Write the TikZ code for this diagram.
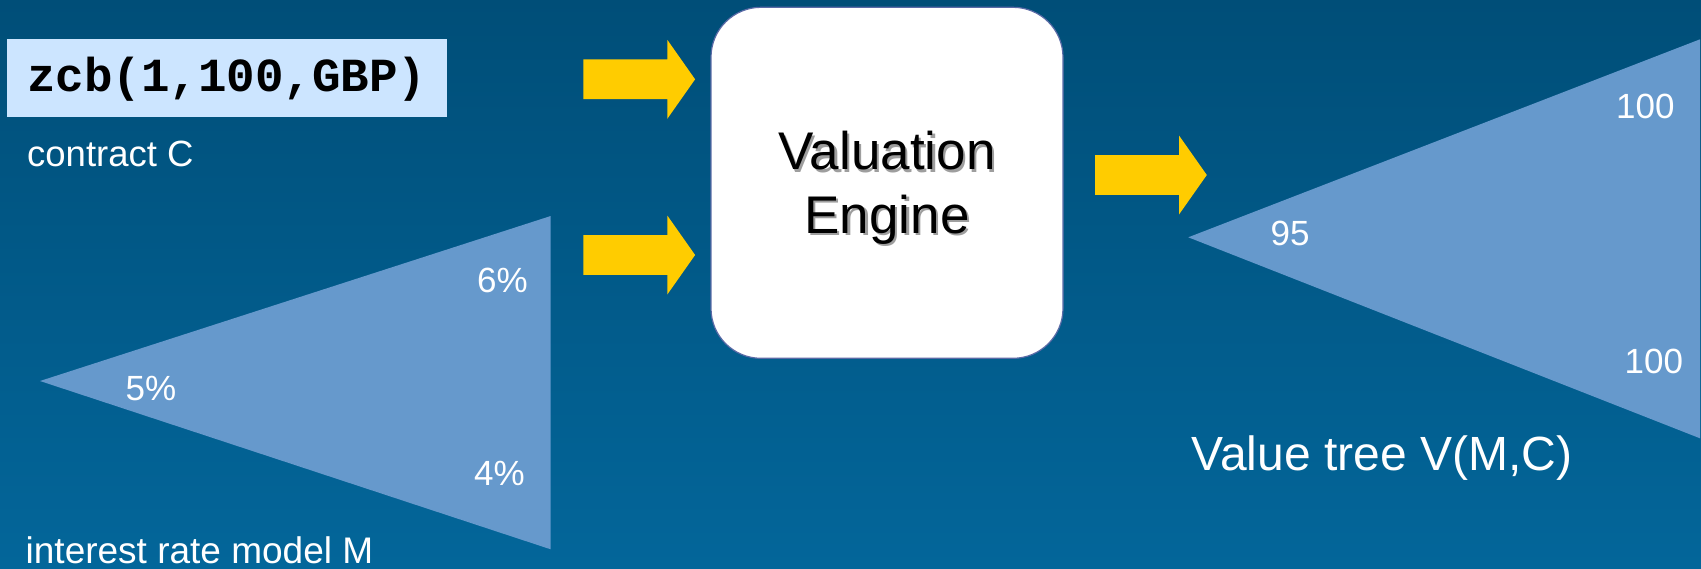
\documentclass[tikz,border=0pt]{standalone}
\usepackage{fontspec}
\setmainfont{Liberation Sans}
\newfontfamily\codefont{Liberation Mono}
\definecolor{bgtop}{HTML}{004E78}
\definecolor{bgbot}{HTML}{03669A}
\definecolor{tri}{HTML}{6699CC}
\definecolor{arrowyellow}{HTML}{FFCC00}
\definecolor{codefill}{HTML}{CCE5FF}
\definecolor{engineedge}{HTML}{5A6AA6}
\newcommand\shtext[1]{\makebox[0pt][l]{\hspace{2.3pt}\raisebox{-2.3pt}{\color{black!38}#1}}#1}
\begin{document}
\begin{tikzpicture}[x=1pt,y=-1pt,
  lbl/.style={text=white, inner sep=0pt, anchor=base west, font=\fontsize{35}{42}\selectfont},
  tree/.style={fill=tri},
  codebox/.style={fill=codefill, inner sep=0pt, minimum width=440pt, text height=52.4pt, text depth=25pt,
    font=\codefont\bfseries\fontsize{47.5}{57}\selectfont},
  engine/.style={fill=white, draw=engineedge, line width=1.2pt, rounded corners=50pt,
    minimum width=352pt, minimum height=351pt, inner sep=0pt, text height=38pt, text depth=64pt,
    font=\fontsize{53}{63.3}\selectfont},
  blockarrow/.pic={\fill[arrowyellow] (0,-19.85) -- (84,-19.85) -- (84,-39.5) -- (111.8,0) -- (84,39.5) -- (84,19.85) -- (0,19.85) -- cycle;}
]
\useasboundingbox (0,0) rectangle (1701,568);
\shade[top color=bgtop, bottom color=bgbot] (0,0) rectangle (1701,568);

% trees
\fill[tree] (40,381) -- (550.7,216) -- (550.7,549.3) -- cycle;
\fill[tree] (1188.3,237.3) -- (1700,39.3) -- (1700,438.3) -- cycle;

% contract
\node[codebox, anchor=south] (code) at (226.7,116.7) {zcb(1,100,GBP)};
\node[lbl, font=\fontsize{36.5}{44}\selectfont] (contract) at (27,166) {contract C};

% engine
\node[engine] (engine) at (887,182.8) {\begin{tabular}[t]{@{}c@{}}\shtext{Valuation}\\\shtext{Engine}\end{tabular}};

% arrows
\pic at (583.3,79.3) {blockarrow};
\pic at (583.3,255) {blockarrow};
\pic at (1095,175) {blockarrow};

% labels
\node[lbl] (r6) at (477,292.7) {6\%};
\node[lbl] (r4) at (474,485.7) {4\%};
\node[lbl] (r5) at (125.5,400) {5\%};
\node[lbl] (v95) at (1270.5,245) {95};
\node[lbl] (vup) at (1616,118.3) {100};
\node[lbl] (vdn) at (1624.5,373.3) {100};
\node[lbl, font=\fontsize{37}{44}\selectfont] (model) at (25.5,563) {interest rate model M};
\node[lbl, font=\fontsize{48}{58}\selectfont] (vtree) at (1191.5,470) {Value tree V(M,C)};
\end{tikzpicture}
\end{document}
